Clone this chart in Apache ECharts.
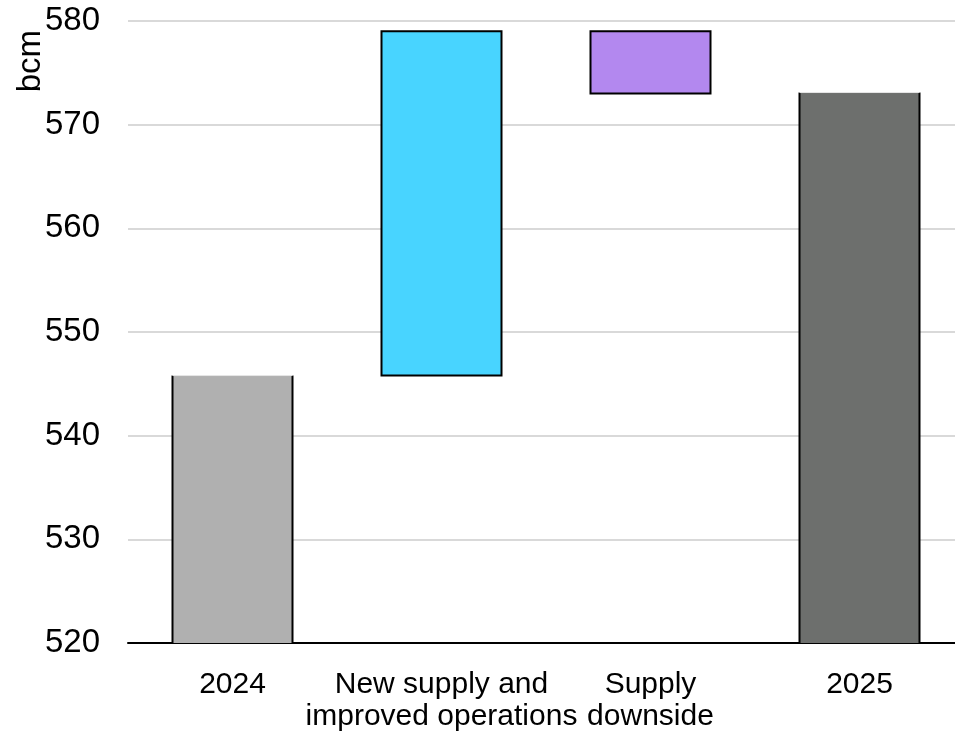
<!DOCTYPE html>
<html>
<head>
<meta charset="utf-8">
<script src="https://cdn.jsdelivr.net/npm/echarts@6/dist/echarts.min.js"></script>
<style>
  html, body { margin: 0; padding: 0; background: #fff; }
  #chart { width: 955px; height: 736px; }
</style>
</head>
<body>
<div id="chart"></div>
<script>
// Gas supply bridge, 2024 to 2025 (bcm)
const categories = ['2024', 'New supply and\nimproved operations', 'Supply\ndownside', '2025'];
const barLow  = [520, 545.8, 573.0, 520];      // bottom of each bar
const barHigh = [545.8, 579.0, 579.0, 573.1];  // top of each bar
const isTotal = [true, false, false, true];
const barColors = ['#b0b0b0', '#48d4ff', '#b388ef', '#6d6f6d'];
const yTicks = { min: 520, max: 580, interval: 10 };

const FONT = '"Liberation Sans", Arial, sans-serif';
const BAR_W = 120;

const barData = categories.map((c, i) => [i, barLow[i], barHigh[i]]);

function renderBar(params, api) {
  const i = api.value(0);
  const lo = api.coord([i, api.value(1)]);
  const hi = api.coord([i, api.value(2)]);
  const x0 = lo[0] - BAR_W / 2, x1 = lo[0] + BAR_W / 2;
  const yTop = hi[1], yBot = lo[1];
  const children = [{
    type: 'rect',
    shape: { x: x0, y: yTop, width: BAR_W, height: yBot - yTop },
    style: { fill: barColors[i], stroke: isTotal[i] ? null : '#000', lineWidth: 2 }
  }];
  if (isTotal[i]) {
    // totals: black sides, faint top edge
    children.push(
      { type: 'line', shape: { x1: x0, y1: yTop, x2: x0, y2: yBot }, style: { stroke: '#000', lineWidth: 2 } },
      { type: 'line', shape: { x1: x1, y1: yTop, x2: x1, y2: yBot }, style: { stroke: '#000', lineWidth: 2 } },
      { type: 'line', shape: { x1: x0, y1: yTop, x2: x1, y2: yTop }, style: { stroke: '#e6e6e6', lineWidth: 1 } }
    );
  }
  return { type: 'group', children };
}

const chart = echarts.init(document.getElementById('chart'));
chart.setOption({
  animation: false,
  grid: {
    left: 128, top: 21, width: 836, bottom: 93,
    containLabel: false, outerBoundsMode: 'none'
  },
  xAxis: {
    type: 'category',
    data: categories,
    axisLine: { lineStyle: { color: '#000', width: 2 } },
    axisTick: { show: false },
    axisLabel: {
      color: '#000', fontFamily: FONT,
      fontSize: 30, lineHeight: 32, margin: 26, interval: 0
    }
  },
  yAxis: {
    type: 'value',
    min: yTicks.min, max: yTicks.max, interval: yTicks.interval,
    axisLine: { show: false },
    axisTick: { show: false },
    splitLine: { lineStyle: { color: '#d9d9d9', width: 2 } },
    axisLabel: { color: '#000', fontFamily: FONT, fontSize: 33, margin: 28 }
  },
  series: [{
    type: 'custom',
    renderItem: renderBar,
    encode: { x: 0, y: [1, 2] },
    data: barData,
    z: 3
  }],
  graphic: [{
    type: 'text', left: 14, top: 30, rotation: Math.PI / 2,
    style: { text: 'bcm', font: '33px ' + FONT, fill: '#000' }
  }]
});
</script>
</body>
</html>
